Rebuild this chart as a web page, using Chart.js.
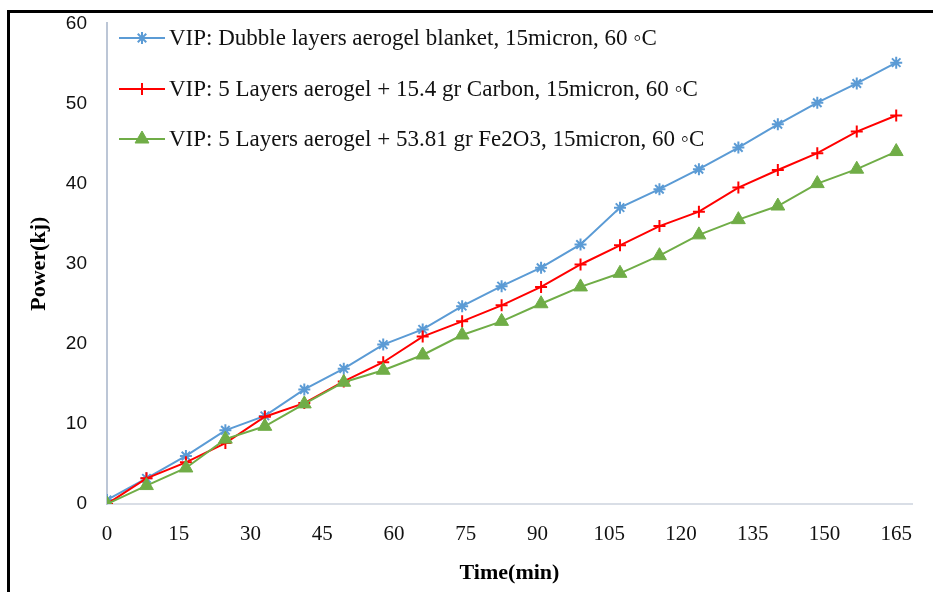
<!DOCTYPE html>
<html lang="en">
<head>
<meta charset="UTF-8">
<title>Power vs Time</title>
<script src="https://cdn.jsdelivr.net/npm/chart.js"></script>
<style>
    html, body {
        margin: 0;
        padding: 0;
        background: #fff;
        overflow: hidden;
    }
    .wrap {
        position: relative;
        width: 933px;
        height: 592px;
    }
    .frame {
        position: absolute;
        left: 7px;
        top: 10px;
        width: 1000px;
        height: 1000px;
        border: 3px solid #000;
    }
    canvas {
        position: absolute;
        left: 0;
        top: 0;
    }
</style>
</head>
<body>
<div class="wrap">
    <div class="frame"></div>
    <canvas id="powerChart" width="933" height="592"></canvas>
</div>
<script>
// time (min) of each reading
const times = [0, 8.25, 16.5, 24.75, 33, 41.25, 49.5, 57.75, 66, 74.25, 82.5,
               90.75, 99, 107.25, 115.5, 123.75, 132, 140.25, 148.5, 156.75, 165];

// absorbed power (kJ) for each panel
const dubbleBlanket = [0.5, 3.2, 6.0, 9.2, 11.0, 14.3, 16.9, 19.9, 21.8, 24.7, 27.2,
                       29.5, 32.4, 37.0, 39.3, 41.8, 44.5, 47.4, 50.1, 52.5, 55.1];
const carbonLayers  = [0, 3.2, 5.2, 7.6, 10.9, 12.6, 15.3, 17.7, 20.9, 22.8, 24.8,
                       27.1, 29.9, 32.3, 34.7, 36.5, 39.5, 41.7, 43.8, 46.5, 48.5];
const fe2o3Layers   = [0, 2.3, 4.5, 8.1, 9.7, 12.5, 15.2, 16.7, 18.6, 21.1, 22.8,
                       25.0, 27.1, 28.8, 31.0, 33.6, 35.5, 37.2, 40.0, 41.8, 44.0];

const seriesLabels = [
    'VIP: Dubble layers aerogel blanket, 15micron, 60 \u25E6C',
    'VIP: 5 Layers aerogel + 15.4 gr Carbon, 15micron, 60 \u25E6C',
    'VIP: 5 Layers aerogel + 53.81 gr Fe2O3, 15micron, 60 \u25E6C'
];

const yTicks = [0, 10, 20, 30, 40, 50, 60];
const xTicks = [0, 15, 30, 45, 60, 75, 90, 105, 120, 135, 150, 165];

function toPoints(ys) {
    return ys.map((y, i) => ({ x: times[i], y: y }));
}

// legend drawn inside the plot, top-left, one entry per row
const innerLegend = {
    id: 'innerLegend',
    afterDraw(chart) {
        const ctx = chart.ctx;
        const rows = [38, 89, 139];
        ctx.save();
        chart.data.datasets.forEach((ds, i) => {
            const y = rows[i];
            ctx.strokeStyle = ds.borderColor;
            ctx.lineWidth = 2;
            ctx.beginPath();
            ctx.moveTo(119, y);
            ctx.lineTo(165, y);
            ctx.stroke();
            ctx.fillStyle = ds.pointBackgroundColor;
            ctx.strokeStyle = ds.borderColor;
            ctx.lineWidth = ds.pointBorderWidth;
            Chart.helpers.drawPoint(ctx, {
                pointStyle: ds.pointStyle,
                radius: ds.pointRadius,
                borderWidth: ds.pointBorderWidth,
                rotation: 0
            }, 142, y);
            ctx.fillStyle = '#111';
            ctx.font = '23px "Liberation Serif", "Times New Roman", serif';
            ctx.textBaseline = 'middle';
            ctx.textAlign = 'left';
            ctx.fillText(ds.label, 169, y + 1);
        });
        ctx.restore();
    }
};

new Chart(document.getElementById('powerChart').getContext('2d'), {
    type: 'line',
    data: {
        datasets: [
            {
                label: seriesLabels[0],
                data: toPoints(dubbleBlanket),
                borderColor: '#5b9bd5',
                pointBackgroundColor: '#5b9bd5',
                borderWidth: 2,
                pointStyle: 'star',
                pointRadius: 6,
                pointBorderWidth: 2,
                order: 3
            },
            {
                label: seriesLabels[1],
                data: toPoints(carbonLayers),
                borderColor: '#ff0000',
                pointBackgroundColor: '#ff0000',
                borderWidth: 2,
                pointStyle: 'cross',
                pointRadius: 6,
                pointBorderWidth: 2,
                order: 2
            },
            {
                label: seriesLabels[2],
                data: toPoints(fe2o3Layers),
                borderColor: '#70ad47',
                pointBackgroundColor: '#70ad47',
                borderWidth: 2,
                pointStyle: 'triangle',
                pointRadius: 8,
                pointBorderWidth: 1,
                order: 1
            }
        ]
    },
    options: {
        responsive: false,
        animation: false,
        layout: {
            padding: { left: 0, right: 21, top: 22, bottom: 0 }
        },
        plugins: {
            legend: { display: false },
            tooltip: { enabled: false }
        },
        elements: {
            line: { tension: 0 }
        },
        scales: {
            x: {
                type: 'linear',
                min: 0,
                max: 168.3,
                afterBuildTicks: scale => {
                    scale.ticks = xTicks.map(v => ({ value: v }));
                },
                afterFit: scale => { scale.height = 88; },
                grid: { display: false },
                border: { display: true, color: '#d9dee6', width: 2 },
                ticks: {
                    color: '#111',
                    padding: 10,
                    maxRotation: 0,
                    autoSkip: false,
                    font: { family: '"Liberation Serif", "Times New Roman", serif', size: 21 }
                },
                title: {
                    display: true,
                    text: 'Time(min)',
                    color: '#000',
                    padding: { top: 0, bottom: 5 },
                    font: { family: '"Liberation Serif", "Times New Roman", serif', size: 22, weight: 'bold' }
                }
            },
            y: {
                min: 0,
                max: 60,
                afterBuildTicks: scale => {
                    scale.ticks = yTicks.map(v => ({ value: v }));
                },
                afterFit: scale => { scale.width = 107; },
                grid: { display: false },
                border: { display: true, color: '#bcc6d6', width: 2 },
                ticks: {
                    color: '#111',
                    padding: 12,
                    font: { family: '"Liberation Sans", Arial, sans-serif', size: 19 }
                },
                title: {
                    display: true,
                    text: 'Power(kj)',
                    color: '#000',
                    padding: { top: 26, bottom: 0 },
                    font: { family: '"Liberation Serif", "Times New Roman", serif', size: 22, weight: 'bold' }
                }
            }
        }
    },
    plugins: [innerLegend]
});
</script>
</body>
</html>
